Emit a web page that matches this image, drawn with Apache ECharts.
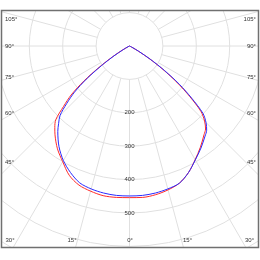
<!DOCTYPE html>
<html>
<head>
<meta charset="utf-8">
<script src="https://cdn.jsdelivr.net/npm/echarts@6/dist/echarts.min.js"></script>
<style>
  html, body { margin: 0; padding: 0; background: #fff; }
  #chart { width: 260px; height: 260px; }
</style>
</head>
<body>
<div id="chart"></div>
<script>
// gamma angles (deg from nadir), same for both sides
const angles = [0, 5, 10, 15, 20, 25, 30, 35, 40, 42.5, 45, 47.5, 50, 52.5, 55, 57.5, 60, 62.5, 65, 90, 180]
// intensity, C0-C180 plane (red) and C90-C270 plane (blue)
const redLeft   = [454, 455, 455, 450, 443, 427, 400, 376, 347, 331, 312, 268, 228, 172, 110, 60, 25, 6, 0, 0, 0]
const redRight  = [454, 455, 452, 446, 437, 418, 393, 370, 347, 337, 318, 290, 236, 180, 122, 70, 30, 8, 0, 0, 0]
const blueLeft  = [449, 449, 447, 443, 436, 418, 396, 368, 334, 314, 294, 255, 215, 162, 102, 55, 22, 5, 0, 0, 0]
const blueRight = [449, 449, 447, 443, 437, 418, 394, 373, 352, 342, 324, 298, 243, 188, 128, 74, 32, 8, 0, 0, 0]

const radiusTicks = [200, 300, 400, 500]
const sideLabels = ['105°', '90°', '75°', '60°', '45°']
const bottomLabels = ['30°', '15°', '0°', '15°', '30°']

const cx = 129.5, cy = 46, pxPer100 = 33.4
const outerR = pxPer100 * 8

function curve (left, right) {
  let pts = []
  for (let i = angles.length - 1; i >= 0; i--) pts.push([left[i], angles[i]])
  for (let i = 1; i < angles.length; i++) pts.push([right[i], 360 - angles[i]])
  return pts
}

const box = { x: 1.5, y: 10.5, w: 257, h: 237 }
const labelStyle = { fill: '#333', fontSize: 6, fontFamily: 'Liberation Sans' }
const sideY = [19, 46, 77, 113, 162.5]
const bottomX = [10, 72, 130, 187.5, 249.5]

let graphics = [
  // masks outside the frame
  { type: 'rect', z: 100, shape: { x: 0, y: 0, width: 260, height: box.y }, style: { fill: '#fff' } },
  { type: 'rect', z: 100, shape: { x: 0, y: box.y + box.h, width: 260, height: 260 }, style: { fill: '#fff' } },
  { type: 'rect', z: 100, shape: { x: 0, y: 0, width: box.x, height: 260 }, style: { fill: '#fff' } },
  { type: 'rect', z: 100, shape: { x: box.x + box.w, y: 0, width: 10, height: 260 }, style: { fill: '#fff' } },
  { type: 'rect', z: 101, shape: { x: box.x, y: box.y, width: box.w, height: box.h }, style: { fill: 'none', stroke: '#707070', lineWidth: 1.5 } }
]
sideLabels.forEach((t, i) => {
  graphics.push({ type: 'text', z: 102, x: 5, y: sideY[i], style: Object.assign({ text: t, align: 'left', verticalAlign: 'middle' }, labelStyle) })
  graphics.push({ type: 'text', z: 102, x: 256, y: sideY[i], style: Object.assign({ text: t, align: 'right', verticalAlign: 'middle' }, labelStyle) })
})
bottomLabels.forEach((t, i) => {
  graphics.push({ type: 'text', z: 102, x: bottomX[i], y: 240.7, style: Object.assign({ text: t, align: 'center', verticalAlign: 'middle' }, labelStyle) })
})

const chart = echarts.init(document.getElementById('chart'), null, { renderer: 'canvas' })
chart.setOption({
  animation: false,
  polar: [
    { center: [cx, cy], radius: [pxPer100, outerR] },
    { center: [cx, cy], radius: [0, outerR] }
  ],
  angleAxis: [
    {
      polarIndex: 0, type: 'value', min: 0, max: 360, interval: 15, startAngle: -90, clockwise: true,
      axisLine: { show: false }, axisTick: { show: false }, axisLabel: { show: false },
      splitLine: { show: true, lineStyle: { color: '#e0e0e0', width: 1 } }
    },
    {
      polarIndex: 1, type: 'value', min: 0, max: 360, interval: 15, startAngle: -90, clockwise: true,
      axisLine: { show: false }, axisTick: { show: false }, axisLabel: { show: false }, splitLine: { show: false }
    }
  ],
  radiusAxis: [
    {
      polarIndex: 0, type: 'value', min: 100, max: 800, interval: 100,
      axisLine: { show: false }, axisTick: { show: false },
      axisLabel: {
        show: true, margin: 0, align: 'center', verticalAlign: 'middle',
        color: '#333', fontSize: 6, fontFamily: 'Liberation Sans',
        formatter: v => radiusTicks.indexOf(v) >= 0 ? String(v) : ''
      },
      splitLine: { show: true, lineStyle: { color: '#e0e0e0', width: 1 } }
    },
    {
      polarIndex: 1, type: 'value', min: 0, max: 800,
      axisLine: { show: false }, axisTick: { show: false }, axisLabel: { show: false }, splitLine: { show: false }
    }
  ],
  series: [
    {
      type: 'line', coordinateSystem: 'polar', polarIndex: 1, data: curve(redLeft, redRight),
      showSymbol: false, smooth: 0.3, lineStyle: { color: '#ff2a2a', width: 1 }, z: 3
    },
    {
      type: 'line', coordinateSystem: 'polar', polarIndex: 1, data: curve(blueLeft, blueRight),
      showSymbol: false, smooth: 0.3, lineStyle: { color: '#2a2aff', width: 1 }, z: 4
    }
  ],
  graphic: graphics
})
</script>
</body>
</html>
